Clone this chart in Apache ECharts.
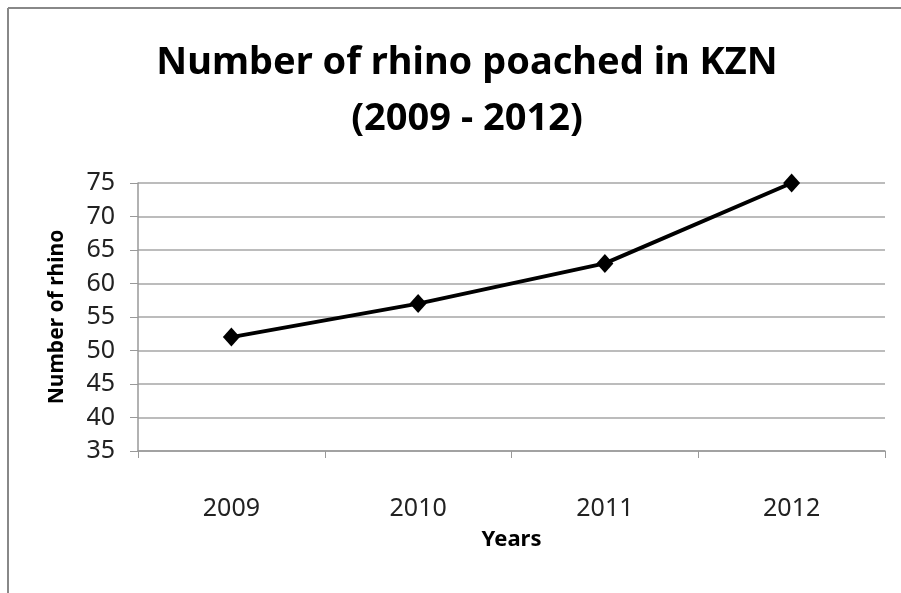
<!DOCTYPE html>
<html>
<head>
<meta charset="utf-8">
<script src="https://cdn.jsdelivr.net/npm/echarts@6/dist/echarts.min.js"></script>
<style>
  html, body { margin: 0; padding: 0; background: #fff; }
  #chart { width: 901px; height: 593px; }
</style>
</head>
<body>
<div id="chart"></div>
<script>
// data
const years = ['2009', '2010', '2011', '2012']
const rhinoPoached = [52, 57, 63, 75]

const font = 'Noto Sans'
const chart = echarts.init(document.getElementById('chart'))

const option = {
  backgroundColor: '#fff',
  animation: false,
  title: {
    text: 'Number of rhino poached in KZN\n(2009 - 2012)',
    left: 462,
    top: 30,
    textAlign: 'center',
    textStyle: {
      fontFamily: font,
      fontWeight: 'bold',
      fontSize: 38,
      lineHeight: 56,
      color: '#000'
    }
  },
  graphic: [
    // chart frame, only top and left edges show in the picture
    { type: 'line', shape: { x1: 8, y1: 8, x2: 901, y2: 8 }, style: { stroke: '#888', lineWidth: 2 } },
    { type: 'line', shape: { x1: 8, y1: 8, x2: 8, y2: 593 }, style: { stroke: '#888', lineWidth: 2 } }
  ],
  grid: {
    left: 138,
    right: 16,
    top: 183,
    bottom: 142
  },
  xAxis: {
    type: 'category',
    data: years,
    boundaryGap: true,
    name: 'Years',
    nameLocation: 'middle',
    nameGap: 78,
    nameTextStyle: { fontFamily: font, fontWeight: 'bold', fontSize: 22, color: '#000' },
    axisLine: { lineStyle: { color: '#999', width: 1.5 } },
    axisTick: { show: true, length: 7, lineStyle: { color: '#999' } },
    axisLabel: { margin: 45, fontFamily: font, fontSize: 25, color: '#222' },
    splitLine: { show: false }
  },
  yAxis: {
    type: 'value',
    min: 35,
    max: 75,
    interval: 5,
    name: 'Number of rhino',
    nameLocation: 'middle',
    nameGap: 70,
    nameRotate: 90,
    nameTextStyle: { fontFamily: font, fontWeight: 'bold', fontSize: 21, color: '#000' },
    axisLine: { show: true, lineStyle: { color: '#999', width: 1.5 } },
    axisTick: { show: true, length: 8, lineStyle: { color: '#999' } },
    axisLabel: { margin: 23, fontFamily: font, fontSize: 25, color: '#222' },
    splitLine: { show: true, lineStyle: { color: '#a6a6a6', width: 1.5 } }
  },
  series: [
    {
      type: 'line',
      data: rhinoPoached,
      symbol: 'diamond',
      symbolSize: [17, 19],
      lineStyle: { color: '#000', width: 4 },
      itemStyle: { color: '#000' }
    }
  ]
}

chart.setOption(option)
</script>
</body>
</html>
